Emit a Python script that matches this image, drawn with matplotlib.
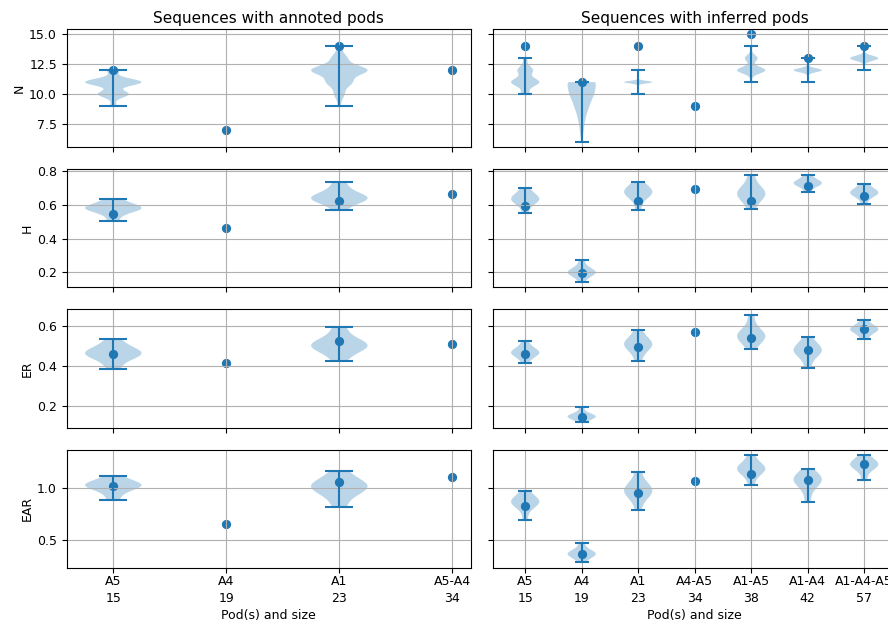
import numpy as np
import matplotlib
matplotlib.use('Agg')
import matplotlib.pyplot as plt

plt.rcParams['font.size'] = 9
plt.rcParams['axes.titlesize'] = 11
plt.rcParams['xtick.major.pad'] = 2
plt.rcParams['axes.labelpad'] = 2.5

# ======================= categories =======================
annot_labels = ['A5\n15', 'A4\n19', 'A1\n23', 'A5-A4\n34']
infer_labels = ['A5\n15', 'A4\n19', 'A1\n23', 'A4-A5\n34', 'A1-A5\n38', 'A1-A4\n42', 'A1-A4-A5\n57']
metrics = ['N', 'H', 'ER', 'EAR']

# ======================= N (integer counts: value -> number of sequences) =======================
n_annot_vals = [[9, 10, 11, 12], [], [9, 10, 11, 12, 13, 14], []]
n_annot_counts = [[6, 30, 55, 12], [], [2, 8, 20, 45, 12, 3], []]
n_infer_vals = [[10, 11, 12, 13], [6, 7, 8, 9, 10, 11], [10, 11, 12], [],
                [11, 12, 13, 14], [11, 12, 13], [12, 13, 14]]
n_infer_counts = [[12, 40, 22, 6], [1, 3, 6, 12, 20, 25], [1, 40, 1], [],
                  [3, 40, 18, 3], [2, 40, 4], [3, 30, 4]]
n_annot_ref = [12, 7, 14, 12]
n_infer_ref = [14, 11, 14, 9, 15, 13, 14]

# ======================= H =======================
h_annot = [[0.506, 0.55, 0.57, 0.58, 0.58, 0.585, 0.59, 0.61, 0.635], [],
           [0.57, 0.615, 0.63, 0.64, 0.64, 0.645, 0.66, 0.69, 0.734], []]
h_infer = [[0.555, 0.6, 0.62, 0.63, 0.635, 0.64, 0.65, 0.67, 0.699],
           [0.143, 0.18, 0.19, 0.2, 0.2, 0.205, 0.21, 0.23, 0.271],
           [0.57, 0.63, 0.655, 0.67, 0.675, 0.68, 0.69, 0.71, 0.737], [],
           [0.575, 0.62, 0.65, 0.66, 0.667, 0.675, 0.69, 0.72, 0.78],
           [0.678, 0.71, 0.72, 0.725, 0.73, 0.735, 0.74, 0.755, 0.78],
           [0.606, 0.645, 0.66, 0.668, 0.672, 0.676, 0.685, 0.7, 0.723]]
h_annot_ref = [0.549, 0.466, 0.624, 0.663]
h_infer_ref = [0.594, 0.196, 0.622, 0.693, 0.624, 0.714, 0.65]

# ======================= ER =======================
er_annot = [[0.388, 0.43, 0.45, 0.46, 0.465, 0.47, 0.48, 0.5, 0.534], [],
            [0.428, 0.47, 0.49, 0.5, 0.505, 0.51, 0.52, 0.55, 0.597], []]
er_infer = [[0.415, 0.445, 0.458, 0.465, 0.468, 0.472, 0.48, 0.495, 0.524],
            [0.119, 0.135, 0.142, 0.146, 0.148, 0.15, 0.155, 0.165, 0.195],
            [0.426, 0.47, 0.49, 0.505, 0.51, 0.515, 0.525, 0.545, 0.582], [],
            [0.488, 0.52, 0.54, 0.548, 0.552, 0.558, 0.57, 0.6, 0.658],
            [0.391, 0.44, 0.46, 0.475, 0.48, 0.485, 0.495, 0.515, 0.544],
            [0.535, 0.56, 0.575, 0.582, 0.585, 0.588, 0.595, 0.607, 0.63]]
er_annot_ref = [0.46, 0.418, 0.525, 0.509]
er_infer_ref = [0.46, 0.145, 0.494, 0.57, 0.539, 0.48, 0.585]

# ======================= EAR =======================
ear_annot = [[0.89, 0.96, 1.0, 1.02, 1.03, 1.035, 1.045, 1.07, 1.118], [],
             [0.817, 0.92, 0.97, 1.0, 1.02, 1.03, 1.05, 1.09, 1.169], []]
ear_infer = [[0.695, 0.8, 0.84, 0.86, 0.87, 0.875, 0.89, 0.92, 0.971],
             [0.285, 0.33, 0.35, 0.362, 0.368, 0.372, 0.385, 0.41, 0.471],
             [0.794, 0.9, 0.94, 0.97, 0.98, 0.99, 1.01, 1.06, 1.16], [],
             [1.035, 1.12, 1.16, 1.18, 1.19, 1.2, 1.21, 1.25, 1.323],
             [0.868, 0.98, 1.03, 1.07, 1.085, 1.09, 1.1, 1.13, 1.186],
             [1.083, 1.17, 1.2, 1.225, 1.232, 1.238, 1.25, 1.28, 1.323]]
ear_annot_ref = [1.019, 0.654, 1.064, 1.109]
ear_infer_ref = [0.833, 0.365, 0.955, 1.07, 1.135, 1.08, 1.231]

n_annot = [list(np.repeat(v, c)) for v, c in zip(n_annot_vals, n_annot_counts)]
n_infer = [list(np.repeat(v, c)) for v, c in zip(n_infer_vals, n_infer_counts)]

annot_data = [(n_annot, n_annot_ref), (h_annot, h_annot_ref), (er_annot, er_annot_ref), (ear_annot, ear_annot_ref)]
infer_data = [(n_infer, n_infer_ref), (h_infer, h_infer_ref), (er_infer, er_infer_ref), (ear_infer, ear_infer_ref)]


def draw(ax, dists, refs):
    # violins only where there is more than one sequence
    pos = [i + 1 for i, d in enumerate(dists) if len(d) > 1]
    vals = [d for d in dists if len(d) > 1]
    ax.violinplot(vals, positions=pos)
    ax.scatter(np.arange(1, len(refs) + 1), refs, s=32)
    ax.grid(True)


fig, axes = plt.subplots(4, 2, figsize=(8.88, 6.24), sharex='col', sharey='row')
fig.subplots_adjust(left=0.0751, right=1.0098, top=0.9535, bottom=0.0902, wspace=0.0545, hspace=0.186)

for r in range(4):
    draw(axes[r, 0], *annot_data[r])
    draw(axes[r, 1], *infer_data[r])
    axes[r, 0].set_ylabel(metrics[r])

axes[0, 0].set_title('Sequences with annoted pods', pad=4)
axes[0, 1].set_title('Sequences with inferred pods', pad=4)

axes[3, 0].set_xticks(np.arange(1, len(annot_labels) + 1))
axes[3, 0].set_xticklabels(annot_labels, linespacing=1.4)
axes[3, 1].set_xticks(np.arange(1, len(infer_labels) + 1))
axes[3, 1].set_xticklabels(infer_labels, linespacing=1.4)
axes[3, 0].set_xlabel('Pod(s) and size')
axes[3, 1].set_xlabel('Pod(s) and size')

fig.savefig('out.png', dpi=100)
